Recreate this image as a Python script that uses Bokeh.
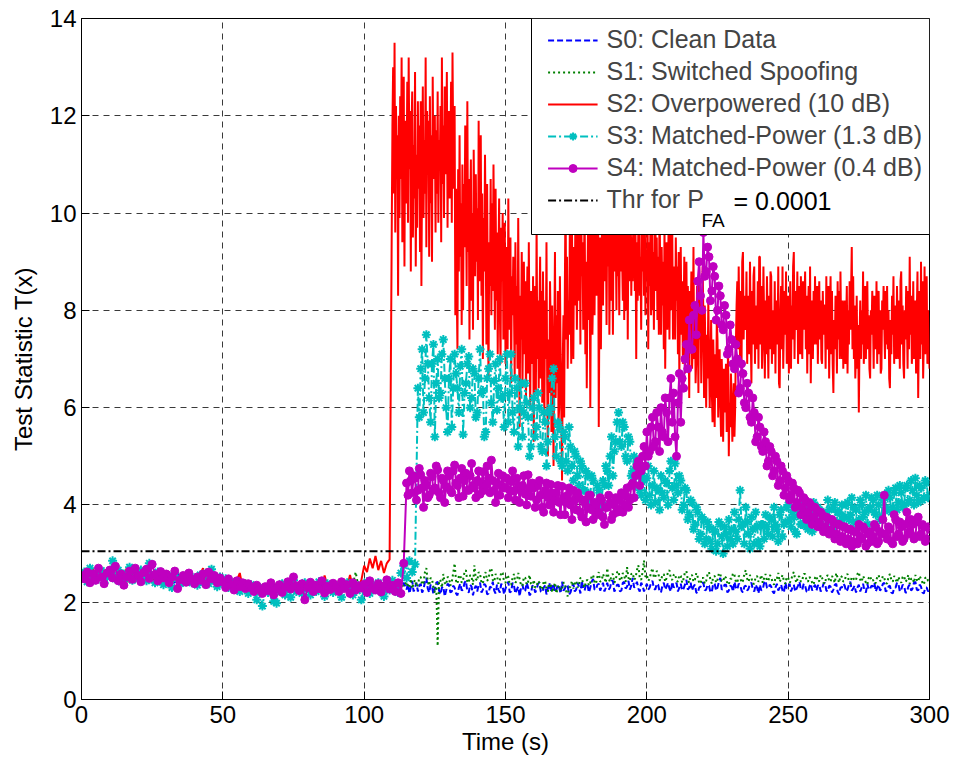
from bokeh.plotting import figure
from bokeh.models import Range1d, Legend, LegendItem, Label, FixedTicker, BoxAnnotation
from bokeh.embed import file_html
from bokeh.resources import INLINE

# ---------------- data ----------------
# Each series: "pre" part sampled every 1 s from t = 0,
# "post" part (after the attack starts) sampled more densely.

# S0: t = 0..114 (1 s), then t = 115.0 .. 300.0 (0.5 s)
s0_post_start, s0_post_step = 115, 0.5
s0_pre = [
    2.48, 2.60, 2.52, 2.40, 2.66, 2.55, 2.44, 2.62, 2.50, 2.58,
    2.45, 2.62, 2.80, 2.52, 2.40, 2.57, 2.48, 2.64, 2.42, 2.55,
    2.50, 2.60, 2.44, 2.56, 2.48, 2.62, 2.38, 2.52, 2.46, 2.58,
    2.42, 2.55, 2.48, 2.36, 2.60, 2.44, 2.52, 2.40, 2.56, 2.46,
    2.38, 2.50, 2.44, 2.58, 2.36, 2.52, 2.42, 2.48, 2.34, 2.55,
    2.40, 2.46, 2.32, 2.44, 2.30, 2.38, 2.26, 2.42, 2.34, 2.28,
    2.35, 2.24, 2.30, 2.38, 2.20, 2.32, 2.26, 2.34, 2.16, 2.30,
    2.38, 2.22, 2.30, 2.42, 2.25, 2.34, 2.20, 2.40, 2.28, 2.32,
    2.26, 2.36, 2.22, 2.40, 2.30, 2.24, 2.46, 2.28, 2.34, 2.20,
    2.36, 2.28, 2.42, 2.24, 2.32, 2.38, 2.22, 2.34, 2.28, 2.40,
    2.30, 2.24, 2.36, 2.28, 2.42, 2.20, 2.34, 2.26, 2.38, 2.30,
    2.24, 2.36, 2.22, 2.32, 2.40,
]
s0_post = [
    2.26, 2.38, 2.18, 2.30, 2.44, 2.22, 2.30, 2.40, 2.22, 2.34,
    2.38, 2.20, 2.26, 2.42, 2.50, 2.28, 2.20, 2.36, 2.34, 2.16, 2.28, 2.40, 2.42, 2.24, 2.16, 2.30, 2.32, 2.12, 2.24, 2.38,
    2.36, 2.20, 2.22, 2.34, 2.30, 2.18, 2.14, 2.30, 2.38, 2.24, 2.26, 2.40, 2.44, 2.22, 2.20, 2.36, 2.32, 2.14, 2.28, 2.34,
    2.22, 2.36, 2.40, 2.20, 2.26, 2.38, 2.34, 2.16, 2.18, 2.32, 2.30, 2.42, 2.24, 2.18, 2.36, 2.26, 2.20, 2.38, 2.32, 2.16,
    2.28, 2.36, 2.42, 2.20, 2.22, 2.40, 2.34, 2.18, 2.26, 2.32, 2.12, 2.30, 2.36, 2.22, 2.24, 2.40, 2.30, 2.14, 2.18, 2.34,
    2.32, 2.20, 2.26, 2.38, 2.40, 2.22, 2.20, 2.30, 2.34, 2.16, 2.28, 2.40, 2.22, 2.32, 2.38, 2.20, 2.25, 2.36, 2.30, 2.18,
    2.42, 2.24, 2.28, 2.36, 2.34, 2.16, 2.20, 2.32, 2.38, 2.22, 2.26, 2.40, 2.32, 2.18, 2.44, 2.28, 2.24, 2.38, 2.36, 2.20,
    2.30, 2.42, 2.48, 2.26, 2.26, 2.36, 2.38, 2.24, 2.32, 2.40, 2.22, 2.30, 2.40, 2.26, 2.30, 2.44, 2.44, 2.22, 2.28, 2.36,
    2.36, 2.22, 2.24, 2.40, 2.42, 2.28, 2.32, 2.44, 2.26, 2.34, 2.50, 2.30, 2.34, 2.42, 2.28, 2.22, 2.40, 2.34, 2.22, 2.30,
    2.38, 2.26, 2.30, 2.40, 2.44, 2.28, 2.26, 2.38, 2.36, 2.22, 2.20, 2.34, 2.40, 2.26, 2.32, 2.40, 2.28, 2.22, 2.42, 2.30,
    2.34, 2.40, 2.22, 2.30, 2.38, 2.24, 2.28, 2.36, 2.46, 2.26, 2.30, 2.40, 2.24, 2.32, 2.36, 2.20, 2.18, 2.30, 2.32, 2.40,
    2.40, 2.24, 2.26, 2.36, 2.34, 2.20, 2.22, 2.38, 2.38, 2.24, 2.30, 2.42, 2.50, 2.26, 2.28, 2.36, 2.36, 2.20, 2.24, 2.34,
    2.32, 2.22, 2.42, 2.30, 2.26, 2.38, 2.36, 2.24, 2.20, 2.32, 2.34, 2.24, 2.28, 2.38, 2.40, 2.26, 2.22, 2.36, 2.30, 2.18,
    2.36, 2.24, 2.26, 2.40, 2.44, 2.30, 2.28, 2.36, 2.32, 2.22, 2.18, 2.30, 2.38, 2.24, 2.30, 2.36, 2.24, 2.20, 2.40, 2.28,
    2.30, 2.38, 2.22, 2.30, 2.36, 2.22, 2.28, 2.34, 2.42, 2.26, 2.26, 2.38, 2.34, 2.22, 2.20, 2.32, 2.38, 2.24, 2.30, 2.36,
    2.24, 2.34, 2.36, 2.22, 2.28, 2.38, 2.40, 2.24, 2.22, 2.34, 2.32, 2.20, 2.26, 2.36, 2.38, 2.22, 2.16, 2.30, 2.30, 2.38,
    2.34, 2.22, 2.26, 2.36, 2.42, 2.24, 2.28, 2.34, 2.20, 2.30, 2.36, 2.22, 2.30, 2.38, 2.24, 2.20, 2.38, 2.26, 2.28, 2.34,
    2.32, 2.40, 2.22, 2.30, 2.36, 2.24, 2.28, 2.38, 2.40, 2.22, 2.24, 2.32, 2.34, 2.20, 2.18, 2.30, 2.30, 2.40, 2.38, 2.22,
    2.26, 2.36, 2.34, 2.20, 2.20, 2.32, 2.36, 2.24, 2.28, 2.40, 2.42, 2.26, 2.24, 2.36, 2.32, 2.20, 2.18, 2.30, 2.30, 2.22,
    2.26,
]

# S1: t = 0..114 (1 s), then t = 115.0 .. 300.0 (0.5 s)
s1_post_start, s1_post_step = 115, 0.5
s1_pre = [
    2.55, 2.46, 2.62, 2.50, 2.58, 2.44, 2.66, 2.52, 2.48, 2.60,
    2.52, 2.70, 2.46, 2.58, 2.50, 2.64, 2.42, 2.56, 2.62, 2.48,
    2.58, 2.45, 2.66, 2.52, 2.48, 2.60, 2.54, 2.42, 2.58, 2.46,
    2.52, 2.44, 2.60, 2.48, 2.40, 2.55, 2.46, 2.58, 2.38, 2.50,
    2.46, 2.56, 2.40, 2.52, 2.44, 2.60, 2.38, 2.50, 2.42, 2.56,
    2.44, 2.36, 2.48, 2.32, 2.42, 2.30, 2.40, 2.34, 2.46, 2.28,
    2.32, 2.40, 2.24, 2.34, 2.28, 2.22, 2.36, 2.26, 2.30, 2.38,
    2.28, 2.36, 2.22, 2.40, 2.30, 2.26, 2.34, 2.20, 2.38, 2.32,
    2.26, 2.38, 2.30, 2.42, 2.24, 2.36, 2.28, 2.40, 2.32, 2.22,
    2.38, 2.30, 2.26, 2.40, 2.34, 2.28, 2.36, 2.62, 2.30, 2.36,
    2.28, 2.38, 2.32, 2.26, 2.40, 2.30, 2.36, 2.24, 2.34, 2.28,
    2.36, 2.30, 2.26, 2.38, 2.32,
]
s1_post = [
    2.42, 2.30, 2.34, 2.48, 2.28, 2.40, 2.46, 2.32, 2.36, 2.50,
    2.52, 2.36, 2.40, 2.62, 2.70, 2.42, 2.34, 2.50, 2.48, 2.30, 2.20, 2.38, 1.10, 2.46, 2.44, 2.30, 2.58, 2.40, 2.36, 2.52,
    2.50, 2.34, 2.42, 2.60, 2.80, 2.44, 2.38, 2.54, 2.56, 2.40, 2.46, 2.62, 2.66, 2.42, 2.40, 2.56, 2.52, 2.36, 2.76, 2.48,
    2.44, 2.62, 2.58, 2.40, 2.38, 2.54, 2.62, 2.44, 2.48, 2.66, 2.70, 2.46, 2.42, 2.58, 2.54, 2.38, 2.46, 2.62, 2.60, 2.42,
    2.40, 2.56, 2.52, 2.36, 2.36, 2.50, 2.58, 2.40, 2.44, 2.60, 2.48, 2.34, 2.34, 2.52, 2.50, 2.36, 2.42, 2.56, 2.38, 2.30,
    2.46, 2.30, 2.32, 2.44, 2.40, 2.26, 2.28, 2.42, 2.44, 2.26, 2.22, 2.38, 2.36, 2.20, 2.30, 2.40, 2.18, 2.30, 2.34, 2.24,
    2.26, 2.40, 2.40, 2.22, 2.12, 2.30, 2.32, 2.44, 2.28, 2.38, 2.44, 2.30, 2.36, 2.50, 2.50, 2.36, 2.30, 2.44, 2.46, 2.34,
    2.40, 2.54, 2.56, 2.40, 2.38, 2.52, 2.62, 2.42, 2.44, 2.58, 2.50, 2.40, 2.70, 2.48, 2.42, 2.56, 2.58, 2.40, 2.46, 2.62,
    2.64, 2.44, 2.48, 2.60, 2.54, 2.42, 2.72, 2.50, 2.44, 2.58, 2.60, 2.46, 2.50, 2.66, 2.76, 2.50, 2.46, 2.62, 2.86, 2.52,
    2.56, 2.44, 2.48, 2.62, 2.70, 2.50, 2.52, 2.64, 2.62, 2.46, 2.44, 2.56, 2.58, 2.42, 2.50, 2.62, 2.66, 2.48, 2.46, 2.56,
    2.58, 2.44, 2.42, 2.56, 2.54, 2.40, 2.48, 2.62, 2.64, 2.46, 2.40, 2.54, 2.56, 2.42, 2.46, 2.60, 2.52, 2.40, 2.38, 2.50,
    2.50, 2.38, 2.44, 2.58, 2.62, 2.46, 2.38, 2.52, 2.54, 2.40, 2.46, 2.60, 2.58, 2.44, 2.42, 2.54, 2.50, 2.38, 2.36, 2.48,
    2.48, 2.60, 2.56, 2.42, 2.40, 2.54, 2.52, 2.40, 2.44, 2.58, 2.66, 2.48, 2.42, 2.56, 2.50, 2.38, 2.38, 2.52, 2.54, 2.42,
    2.46, 2.56, 2.40, 2.50, 2.58, 2.44, 2.44, 2.56, 2.52, 2.40, 2.36, 2.50, 2.48, 2.60, 2.42, 2.48, 2.56, 2.44, 2.38, 2.52,
    2.50, 2.40, 2.44, 2.56, 2.62, 2.46, 2.40, 2.54, 2.52, 2.42, 2.46, 2.58, 2.58, 2.44, 2.42, 2.52, 2.48, 2.40, 2.36, 2.50,
    2.54, 2.42, 2.44, 2.56, 2.50, 2.40, 2.38, 2.52, 2.56, 2.44, 2.42, 2.54, 2.48, 2.40, 2.60, 2.50, 2.40, 2.54, 2.52, 2.42,
    2.44, 2.56, 2.58, 2.42, 2.38, 2.52, 2.50, 2.44, 2.46, 2.58, 2.62, 2.46, 2.42, 2.54, 2.48, 2.40, 2.36, 2.50, 2.54, 2.44,
    2.46, 2.38, 2.40, 2.52, 2.56, 2.44, 2.44, 2.54, 2.50, 2.40, 2.38, 2.52, 2.58, 2.46, 2.42, 2.54, 2.48, 2.40, 2.52, 2.44,
    2.40, 2.52, 2.54, 2.42, 2.46, 2.56, 2.38, 2.48, 2.50, 2.40, 2.56, 2.46, 2.42, 2.54, 2.48, 2.40, 2.36, 2.50, 2.52, 2.44,
    2.44,
]

# S2: t = 0..109 (1 s), then t = 110.00 .. 300.00 (0.25 s)
s2_post_start, s2_post_step = 110, 0.25
s2_pre = [
    2.52, 2.65, 2.45, 2.58, 2.70, 2.48, 2.55, 2.62, 2.42, 2.57,
    2.50, 2.68, 2.55, 2.45, 2.62, 2.52, 2.70, 2.40, 2.58, 2.50,
    2.62, 2.48, 2.55, 2.42, 2.66, 2.52, 2.45, 2.58, 2.40, 2.55,
    2.47, 2.60, 2.38, 2.52, 2.44, 2.56, 2.40, 2.62, 2.48, 2.35,
    2.52, 2.44, 2.58, 2.70, 2.40, 2.55, 2.46, 2.62, 2.38, 2.50,
    2.45, 2.36, 2.50, 2.40, 2.32, 2.46, 2.60, 2.30, 2.42, 2.35,
    2.28, 2.40, 2.32, 2.22, 2.36, 2.25, 2.30, 2.20, 2.38, 2.26,
    2.32, 2.44, 2.25, 2.36, 2.28, 2.58, 2.30, 2.40, 2.22, 2.35,
    2.42, 2.26, 2.38, 2.30, 2.45, 2.28, 2.55, 2.33, 2.24, 2.40,
    2.30, 2.44, 2.26, 2.38, 2.32, 2.56, 2.28, 2.40, 2.34, 2.45,
    2.75, 2.62, 2.90, 2.70, 2.95, 2.66, 2.85, 2.60, 2.80, 2.88,
]
s2_post = [
    11.8, 13.0, 10.4, 13.5, 9.6, 12.2, 10.8, 11.6, 8.3, 12.0, 9.9, 12.4, 10.7, 13.2, 9.4, 11.3, 12.8, 8.9, 11.9, 10.2,
    10.6, 12.7, 9.8, 13.2, 10.9, 12.1, 8.8, 11.7, 12.5, 9.5, 11.4, 10.3, 12.9, 8.9, 11.2, 9.7, 12.3, 10.5, 11.8, 9.2,
    12.3, 8.5, 11.0, 12.6, 9.9, 11.5, 10.4, 13.2, 9.3, 12.1, 10.8, 11.9, 9.1, 12.4, 10.2, 11.6, 9.0, 12.8, 10.7, 11.3,
    12.0, 9.6, 11.7, 10.4, 12.5, 9.8, 11.5, 10.9, 12.2, 9.4, 13.2, 10.6, 11.8, 9.9, 12.6, 10.8, 11.1, 12.9, 9.7, 12.0,
    12.1, 10.3, 11.0, 12.7, 9.8, 13.3, 11.4, 10.5, 12.2, 7.9, 10.5, 8.4, 7.2, 10.9, 8.8, 11.6, 9.1, 10.2, 7.7, 11.0,
    8.0, 10.6, 9.3, 11.8, 10.4, 8.5, 12.3, 9.2, 10.7, 7.4, 9.8, 11.1, 8.2, 10.0, 7.6, 11.3, 9.5, 8.7, 10.8, 9.0,
    10.1, 7.8, 11.9, 8.6, 9.7, 11.6, 8.3, 10.4, 7.0, 9.9, 8.8, 11.2, 9.5, 7.3, 10.6, 8.1, 6.6, 9.4, 8.5, 10.7,
    7.9, 10.2, 8.4, 11.0, 9.1, 7.6, 10.5, 8.2, 9.6, 7.1, 9.0, 10.3, 8.0, 6.9, 9.7, 8.6, 10.0, 7.4, 8.9, 9.8,
    6.9, 9.3, 8.8, 7.2, 10.3, 8.1, 7.6, 9.5, 6.5, 8.7, 7.9, 9.1, 8.1, 6.6, 9.4, 7.3, 8.5, 6.8, 9.9, 7.7,
    5.6, 8.3, 7.4, 9.2, 6.4, 8.0, 9.0, 7.1, 8.6, 6.2, 7.8, 8.9, 6.7, 9.4, 7.5, 6.0, 8.4, 7.2, 6.9, 8.7,
    5.3, 7.6, 8.5, 6.3, 9.8, 7.0, 8.2, 6.4, 7.9, 9.1, 6.6, 8.4, 6.1, 8.8, 7.3, 5.8, 8.2, 7.0, 9.4, 6.5,
    5.0, 7.4, 6.3, 8.6, 7.6, 5.5, 8.1, 6.8, 4.8, 7.3, 9.2, 6.2, 7.9, 6.5, 8.4, 5.7, 6.0, 8.7, 7.1, 5.9,
    4.5, 6.9, 7.9, 5.8, 8.5, 10.5, 7.4, 9.1, 6.8, 8.2, 7.5, 9.6, 8.8, 6.9, 9.9, 7.8, 7.0, 9.3, 8.1, 10.2,
    9.5, 7.6, 8.9, 10.6, 8.2, 9.9, 7.3, 10.5, 8.7, 9.4, 7.6, 8.8, 10.3, 7.1, 9.0, 6.4, 8.5, 10.1, 7.8, 9.6,
    6.0, 8.9, 9.8, 7.5, 8.5, 10.4, 7.9, 9.7, 10.8, 8.3, 9.2, 11.0, 5.6, 8.4, 9.5, 7.2, 9.0, 10.7, 8.1, 9.9,
    11.0, 8.6, 9.8, 7.7, 10.2, 8.9, 10.9, 7.5, 9.3, 10.5, 8.2, 9.7, 7.5, 10.1, 8.8, 11.1, 9.6, 8.0, 10.4, 8.7,
    9.6, 7.9, 10.3, 8.8, 10.6, 9.1, 8.2, 10.9, 7.8, 9.7, 9.3, 8.0, 10.5, 7.4, 9.9, 8.6, 9.3, 10.8, 8.3, 9.5,
    8.6, 10.2, 11.2, 8.4, 9.6, 7.0, 9.4, 8.2, 9.8, 10.6, 8.3, 9.1, 7.6, 10.0, 8.8, 9.7, 8.3, 10.4, 7.9, 9.2,
    8.8, 10.1, 7.2, 9.4, 8.5, 9.6, 7.9, 10.3, 8.0, 9.2, 7.6, 10.0, 10.2, 8.4, 9.5, 7.8, 9.1, 7.5, 10.4, 8.6,
    7.5, 9.3, 8.1, 9.0, 7.2, 9.8, 6.8, 8.7, 9.4, 7.6, 8.6, 10.1, 7.4, 9.2, 9.8, 8.0, 9.6, 7.4, 8.9, 8.3,
    7.4, 9.5, 8.2, 8.9, 7.1, 9.2, 6.6, 8.4, 9.3, 7.5, 8.6, 6.9, 7.8, 9.1, 6.7, 8.3, 9.0, 7.2, 8.5, 7.7,
    6.2, 8.4, 7.6, 8.8, 6.8, 7.3, 9.3, 7.0, 8.1, 6.5, 7.0, 8.5, 7.7, 6.3, 9.0, 7.4, 8.2, 6.5, 7.6, 8.9,
    7.9, 6.2, 8.1, 6.9, 6.0, 7.5, 6.6, 8.2, 7.1, 6.0, 6.8, 7.8, 6.3, 5.7, 7.4, 6.5, 5.6, 7.1, 6.2, 7.8,
    7.4, 5.8, 6.6, 7.2, 6.1, 5.4, 7.0, 6.3, 5.3, 6.8, 5.9, 6.5, 6.9, 5.5, 6.2, 7.3, 5.0, 6.1, 5.6, 6.7,
    6.2, 5.3, 5.9, 6.5, 5.4, 6.0, 7.3, 8.1, 8.6, 7.2, 8.9, 7.6, 7.0, 8.4, 6.8, 9.0, 9.2, 7.4, 8.3, 7.8,
    7.6, 8.8, 6.9, 8.2, 8.3, 7.1, 9.0, 7.5, 6.5, 8.4, 7.3, 8.7, 8.9, 6.9, 8.1, 7.6, 7.2, 8.6, 6.8, 9.1,
    9.1, 7.3, 8.5, 6.8, 7.4, 8.9, 7.8, 6.6, 8.2, 7.1, 8.7, 7.6, 6.6, 8.3, 7.2, 8.8, 8.7, 6.9, 8.0, 7.5,
    7.1, 8.6, 6.7, 8.2, 8.0, 7.3, 8.9, 6.5, 6.4, 7.9, 8.5, 7.2, 8.9, 6.8, 7.7, 8.4, 7.5, 8.8, 6.9, 8.1,
    8.3, 6.7, 7.8, 8.6, 6.8, 8.1, 7.4, 8.9, 9.2, 7.0, 8.4, 7.6, 7.7, 8.8, 6.9, 8.2, 8.5, 7.1, 8.7, 7.4,
    7.0, 8.6, 7.6, 8.1, 8.8, 7.2, 8.3, 6.7, 7.9, 8.5, 7.1, 8.9, 6.5, 7.8, 8.2, 7.0, 8.4, 7.3, 8.7, 7.6,
    7.3, 8.5, 6.9, 8.0, 8.6, 7.4, 8.2, 7.0, 6.9, 8.4, 7.5, 8.1, 8.1, 6.8, 8.7, 7.3, 7.2, 8.5, 6.6, 7.9,
    8.7, 7.1, 8.4, 6.9, 6.3, 7.8, 7.2, 8.3, 7.8, 6.7, 8.6, 7.4, 8.4, 7.0, 8.8, 7.5, 7.0, 8.2, 6.8, 7.9,
    8.2, 6.9, 7.7, 8.5, 6.7, 8.0, 7.3, 8.6, 7.6, 8.4, 9.3, 7.2, 8.7, 7.0, 8.1, 6.6, 7.1, 8.3, 6.8, 7.7,
    5.9, 7.4, 8.2, 7.0, 8.0, 7.3, 8.8, 6.9, 7.4, 8.5, 7.0, 8.1, 8.6, 7.2, 7.9, 6.8, 6.6, 8.0, 7.5, 8.4,
    7.9, 6.8, 8.3, 7.4, 7.2, 8.6, 6.9, 8.1, 8.4, 7.1, 8.0, 6.7, 6.8, 8.2, 7.6, 8.5, 7.7, 7.0, 8.4, 7.3,
    8.5, 7.2, 8.0, 6.6, 6.4, 7.8, 7.1, 8.3, 7.5, 8.7, 6.9, 7.9, 8.1, 7.0, 8.5, 7.4, 7.0, 8.2, 6.8, 8.6,
    8.8, 7.3, 8.1, 6.9, 6.6, 8.0, 7.4, 8.5, 7.8, 6.8, 8.4, 7.2, 9.1, 7.5, 8.3, 6.9, 7.3, 8.6, 7.0, 8.1,
    8.2, 6.7, 7.9, 8.8, 6.2, 7.6, 8.4, 7.0, 9.0, 7.3, 8.6, 6.6, 7.4, 8.9, 7.1, 8.2, 8.7, 6.9, 8.0, 7.5,
    6.8,
]

# S3: t = 0..118 (1 s), then t = 119.0 .. 300.0 (0.5 s)
s3_post_start, s3_post_step = 119, 0.5
s3_pre = [
    2.50, 2.62, 2.42, 2.70, 2.55, 2.46, 2.58, 2.65, 2.40, 2.52,
    2.60, 2.85, 2.48, 2.66, 2.42, 2.58, 2.50, 2.72, 2.45, 2.60,
    2.48, 2.66, 2.52, 2.44, 2.80, 2.55, 2.40, 2.62, 2.50, 2.36,
    2.55, 2.45, 2.30, 2.60, 2.48, 2.38, 2.52, 2.44, 2.58, 2.40,
    2.50, 2.35, 2.56, 2.42, 2.60, 2.38, 2.68, 2.45, 2.32, 2.52,
    2.38, 2.48, 2.30, 2.42, 2.28, 2.40, 2.22, 2.35, 2.30, 2.18,
    2.36, 2.25, 2.05, 2.30, 1.92, 2.28, 2.20, 2.35, 2.02, 1.98,
    2.25, 2.38, 2.15, 2.30, 2.10, 2.45, 2.22, 2.33, 2.18, 2.40,
    2.28, 2.15, 2.36, 2.22, 2.42, 2.26, 2.12, 2.38, 2.30, 2.20,
    2.35, 2.25, 2.10, 2.32, 2.40, 2.24, 2.15, 2.36, 2.28, 2.05,
    2.30, 2.42, 2.18, 2.35, 2.26, 2.40, 2.22, 2.12, 2.36, 2.25,
    2.45, 2.30, 2.20, 2.60, 2.75, 2.50, 2.85, 2.62, 2.78,
]
s3_post = [
    6.40, 5.80,
    6.80, 7.20, 5.90, 6.60, 7.50, 6.90, 6.20, 5.70, 6.90, 7.30, 5.40, 6.50, 7.00, 6.20, 6.30, 7.10, 7.40, 6.60, 6.00, 5.50,
    6.60, 7.00, 5.60, 6.40, 7.10, 6.70, 6.40, 5.90, 6.85, 7.20, 5.45, 6.30, 6.50, 6.90, 7.05, 6.00, 6.20, 6.80, 6.70, 5.80,
    5.90, 6.60, 7.20, 6.30, 6.35, 5.40, 5.50, 6.60, 6.80, 7.10, 6.10, 5.70, 6.55, 6.90, 5.95, 6.40, 7.00, 6.20, 6.25, 5.60,
    6.60, 7.10, 5.70, 6.30, 7.10, 5.90, 5.50, 6.60, 6.40, 5.20, 6.00, 6.50, 5.40, 5.90, 6.50, 6.10, 5.80, 5.00, 5.20, 6.00,
    6.20, 5.40, 5.60, 6.30, 6.00, 5.20, 5.10, 5.90, 5.70, 4.80, 5.30, 5.90, 6.00, 6.60, 6.80, 5.40, 5.00, 5.70, 5.60, 4.90,
    4.80, 5.50, 5.40, 4.90, 4.70, 5.60, 5.20, 4.80, 4.50, 5.10, 5.00, 4.60, 4.40, 4.90, 4.80, 4.30, 4.30, 4.70, 4.60, 4.10,
    4.20, 4.60, 4.50, 4.00, 3.95, 4.40, 4.30, 3.90, 4.05, 4.50, 4.40, 4.80, 4.70, 4.40, 5.00, 5.40, 4.60, 5.10, 5.30, 5.70,
    5.90, 5.30, 5.20, 5.70, 5.60, 5.00, 4.90, 5.40, 5.30, 4.60, 4.70, 5.00, 4.40, 4.90, 4.80, 4.30, 4.20, 4.60, 4.50, 4.10,
    4.55, 4.80, 4.20, 4.00, 4.40, 4.70, 4.05, 4.35, 4.30, 3.90, 4.60, 4.25, 4.15, 4.50, 4.45, 4.00, 4.70, 4.90, 4.35, 4.10,
    4.85, 4.40, 4.25, 4.60, 4.50, 3.90, 4.00, 4.35, 4.30, 3.70, 3.80, 4.10, 4.05, 3.50, 3.60, 3.95, 3.85, 3.30, 3.40, 3.75,
    3.70, 3.20, 3.30, 3.65, 3.55, 3.25, 3.10, 3.50, 3.45, 3.05, 3.20, 3.65, 3.60, 3.35, 3.00, 3.55, 3.40, 3.15, 3.70, 3.30,
    3.50, 3.20, 3.85, 3.45, 3.30, 3.70, 4.30, 3.55, 3.60, 3.20, 3.95, 3.65, 3.40, 3.10, 3.75, 3.50, 3.20, 3.85, 3.55, 3.25,
    3.15, 3.60, 3.60, 3.30, 3.80, 3.55, 3.40, 3.75, 3.70, 3.35, 3.95, 3.60, 3.50, 3.25, 3.80, 3.90, 3.35, 3.60, 3.65, 3.95,
    4.00, 3.70, 3.55, 3.85, 3.75, 3.45, 3.40, 3.80, 3.90, 3.60, 3.60, 4.00, 3.85, 3.55, 3.50, 3.95, 3.70, 3.45, 4.05, 3.80,
    3.65, 3.95, 3.90, 3.60, 3.55, 3.85, 3.80, 3.55, 4.10, 3.90, 3.70, 3.50, 3.95, 4.05, 3.60, 3.85, 3.85, 3.65, 4.00, 3.75,
    3.75, 4.00, 4.05, 3.70, 3.80, 4.15, 3.65, 3.95, 3.90, 3.60, 3.70, 4.10, 4.00, 3.75, 3.85, 4.20, 3.60, 3.90, 3.95, 4.15,
    4.10, 3.85, 3.80, 4.20, 4.00, 3.70, 3.75, 4.10, 4.20, 3.95, 3.90, 4.30, 4.15, 3.85, 3.95, 4.25, 4.35, 3.90, 4.05, 4.40,
    4.25, 3.95, 4.00, 4.35, 4.40, 4.05, 4.10, 4.50, 4.30, 4.00, 4.55, 4.20, 4.05, 4.40, 4.35, 4.10, 4.15, 4.50, 4.45, 4.15,
    4.20,
]

# S4: t = 0..114 (1 s), then t = 115.0 .. 300.0 (0.5 s)
s4_post_start, s4_post_step = 115, 0.5
s4_pre = [
    2.55, 2.48, 2.62, 2.40, 2.58, 2.45, 2.70, 2.52, 2.38, 2.60,
    2.66, 2.50, 2.74, 2.44, 2.58, 2.35, 2.52, 2.64, 2.47, 2.70,
    2.55, 2.42, 2.61, 2.68, 2.49, 2.78, 2.57, 2.44, 2.63, 2.50,
    2.58, 2.40, 2.52, 2.64, 2.28, 2.46, 2.55, 2.41, 2.60, 2.47,
    2.38, 2.52, 2.45, 2.58, 2.36, 2.62, 2.48, 2.55, 2.40, 2.50,
    2.42, 2.30, 2.48, 2.36, 2.25, 2.44, 2.32, 2.40, 2.28, 2.38,
    2.30, 2.22, 2.35, 2.26, 2.18, 2.32, 2.24, 2.40, 2.15, 2.28,
    2.36, 2.20, 2.31, 2.42, 2.27, 2.52, 2.34, 2.24, 2.38, 2.05,
    2.30, 2.41, 2.22, 2.35, 2.28, 2.44, 2.19, 2.33, 2.26, 2.39,
    2.31, 2.22, 2.42, 2.28, 2.36, 2.18, 2.40, 2.25, 2.34, 2.29,
    2.37, 2.20, 2.44, 2.30, 2.25, 2.38, 2.21, 2.33, 2.46, 2.27,
    2.35, 2.22, 2.40, 2.18, 2.80,
]
s4_post = [
    4.45, 4.20, 4.70, 4.50, 4.25, 4.60, 4.55, 4.10, 4.30, 4.75,
    4.62, 4.35, 3.95, 4.50, 4.40, 4.15, 4.20, 4.65, 4.58, 4.30, 4.35, 4.80, 4.72, 4.25, 4.15, 4.55, 4.50, 4.05, 4.38, 4.70,
    4.60, 4.30, 4.25, 4.70, 4.82, 4.45, 4.40, 4.15, 4.55, 4.75, 4.18, 4.50, 4.65, 4.30, 4.30, 4.60, 4.85, 4.40, 4.35, 4.15,
    4.50, 4.70, 4.22, 4.45, 4.68, 4.30, 4.40, 4.80, 4.55, 4.25, 4.92, 4.50, 4.30, 4.05, 4.45, 4.65, 4.20, 4.40, 4.60, 4.35,
    4.35, 4.55, 4.15, 4.30, 4.48, 4.70, 4.28, 4.10, 4.55, 4.40, 4.05, 4.30, 4.40, 4.60, 4.22, 4.00, 4.62, 4.35, 4.18, 4.45,
    4.35, 3.95, 4.10, 4.40, 4.50, 4.20, 3.95, 3.85, 4.30, 4.45, 4.15, 4.00, 4.42, 4.25, 3.85, 4.10, 4.25, 4.40, 4.05, 3.80,
    4.38, 4.15, 3.80, 4.05, 4.20, 4.35, 4.00, 3.70, 4.30, 4.10, 3.90, 4.25, 4.15, 3.85, 3.75, 4.10, 4.05, 3.65, 3.95, 4.20,
    4.20, 3.90, 3.70, 4.05, 4.00, 3.80, 3.85, 4.15, 4.10, 3.75, 3.60, 3.95, 3.95, 4.20, 4.05, 3.70, 3.80, 4.00, 4.15, 3.85,
    3.90, 4.10, 4.25, 3.85, 4.00, 4.20, 4.35, 3.95, 4.10, 4.40, 4.45, 4.15, 4.60, 4.80, 4.90, 4.40, 4.70, 5.00, 5.20, 4.80,
    5.50, 5.00, 5.10, 5.60, 5.80, 5.20, 5.30, 5.90, 5.60, 5.10, 6.00, 5.50, 5.40, 6.20, 5.90, 5.30, 6.20, 6.60, 5.70, 6.30,
    5.40, 5.00, 6.10, 6.70, 5.70, 6.60, 6.40, 7.00, 7.30, 6.80, 7.80, 7.20, 7.20, 7.90, 8.10, 7.50, 8.60, 9.00, 8.30, 8.00,
    9.60, 8.70, 8.80, 9.30, 9.10, 8.20, 8.40, 8.90, 8.70, 7.80, 8.00, 8.50, 8.30, 7.70, 7.60, 8.10, 7.90, 7.10, 7.20, 7.70,
    7.40, 6.90, 6.80, 7.30, 7.00, 6.30, 6.40, 6.90, 6.70, 6.10, 6.00, 6.50, 6.30, 5.80, 5.70, 6.20, 5.90, 5.30, 5.40, 5.80,
    5.60, 5.20, 5.10, 5.50, 5.30, 4.80, 4.90, 5.20, 5.10, 4.60, 4.70, 5.00, 4.90, 4.40, 4.50, 4.80, 4.70, 4.20, 4.35, 4.60,
    4.50, 4.10, 4.20, 4.45, 4.35, 3.95, 4.05, 4.30, 4.25, 3.80, 3.95, 4.15, 4.10, 3.70, 3.85, 4.05, 4.00, 3.60, 3.75, 3.95,
    3.90, 3.55, 3.65, 3.85, 3.80, 3.45, 3.55, 3.75, 3.72, 3.40, 3.48, 3.70, 3.65, 3.30, 3.40, 3.60, 3.60, 3.25, 3.35, 3.55,
    3.55, 3.20, 3.30, 3.50, 3.50, 3.15, 3.25, 3.45, 3.45, 3.20, 3.60, 3.35, 3.30, 3.55, 3.50, 3.15, 3.20, 3.40, 3.45, 3.25,
    3.35, 3.60, 3.55, 3.20, 3.25, 3.45, 3.40, 3.70, 4.20, 3.40, 3.30, 3.55, 3.50, 3.25, 3.20, 3.80, 3.70, 3.35, 3.40, 3.65,
    3.55, 3.25, 3.30, 3.60, 3.85, 3.40, 3.45, 3.70, 3.60, 3.30, 3.35, 3.65, 3.75, 3.35, 3.40, 3.60, 3.55, 3.25, 3.30, 3.55,
    3.50,
]

threshold_value = 3.05
threshold_t = [0, 300]

x_ticks = [0, 50, 100, 150, 200, 250, 300]
y_ticks = [0, 2, 4, 6, 8, 10, 12, 14]

series_labels = [
    "S0: Clean Data",
    "S1: Switched Spoofing",
    "S2: Overpowered (10 dB)",
    "S3: Matched-Power (1.3 dB)",
    "S4: Matched-Power (0.4 dB)",
    "Thr for P",
]


def sample_times(pre_values, start, step, post_values):
    pre_t = list(range(len(pre_values)))
    post_t = [start + step * k for k in range(len(post_values))]
    return pre_t + post_t


s0_t = sample_times(s0_pre, s0_post_start, s0_post_step, s0_post)
s1_t = sample_times(s1_pre, s1_post_start, s1_post_step, s1_post)
s2_t = sample_times(s2_pre, s2_post_start, s2_post_step, s2_post)
s3_t = sample_times(s3_pre, s3_post_start, s3_post_step, s3_post)
s4_t = sample_times(s4_pre, s4_post_start, s4_post_step, s4_post)
s0_y = s0_pre + s0_post
s1_y = s1_pre + s1_post
s2_y = s2_pre + s2_post
s3_y = s3_pre + s3_post
s4_y = s4_pre + s4_post
threshold_y = [threshold_value] * len(threshold_t)

FONT = "Liberation Sans"

# ---------------- figure ----------------
p = figure(
    width=953, height=761,
    x_range=Range1d(0, 300), y_range=Range1d(0, 14),
    output_backend="svg", toolbar_location=None,
    min_border_left=81, min_border_right=24,
    min_border_top=18, min_border_bottom=62,
    background_fill_color="white", border_fill_color="white",
)
p.outline_line_color = "black"
p.outline_line_width = 1

for ax in (p.xaxis[0], p.yaxis[0]):
    ax.major_tick_in = 8
    ax.major_tick_out = 0
    ax.minor_tick_in = 0
    ax.minor_tick_out = 0
    ax.axis_line_color = "black"
    ax.major_tick_line_color = "black"
    ax.major_label_text_font = FONT
    ax.major_label_text_font_size = "24px"
    ax.major_label_text_color = "black"
    ax.axis_label_text_font = FONT
    ax.axis_label_text_font_size = "24px"
    ax.axis_label_text_font_style = "normal"
    ax.axis_label_text_color = "black"

p.xaxis.ticker = FixedTicker(ticks=x_ticks)
p.yaxis.ticker = FixedTicker(ticks=y_ticks)
p.xaxis.axis_label = "Time (s)"
p.yaxis.axis_label = "Test Statistic T(x)"
p.xaxis.major_label_standoff = 6
p.xaxis.axis_label_standoff = 2
p.yaxis.major_label_standoff = 5
p.yaxis.axis_label_standoff = 10

for g in (p.xgrid[0], p.ygrid[0]):
    g.grid_line_color = "#3a3a3a"
    g.grid_line_dash = "6 5"
    g.grid_line_width = 1

# ---------------- series ----------------
r0 = p.line(s0_t, s0_y, line_color="#0000ff", line_width=2, line_dash="6 3")
r1 = p.line(s1_t, s1_y, line_color="#008000", line_width=2, line_dash="2 3")
r2 = p.line(s2_t, s2_y, line_color="#ff0000", line_width=2)
r3l = p.line(s3_t, s3_y, line_color="#00bfbf", line_width=2, line_dash="8 3 2 3")
r3m = p.scatter(s3_t, s3_y, marker="asterisk", size=9,
                line_color="#00bfbf", line_width=2)
r4l = p.line(s4_t, s4_y, line_color="#bf00bf", line_width=2)
r4m = p.scatter(s4_t, s4_y, marker="circle", size=8,
                line_color="#bf00bf", fill_color="#bf00bf")
rthr = p.line(threshold_t, threshold_y, line_color="black", line_width=2, line_dash="8 3 2 3")

# legend frame (box drawn separately so its bottom leaves room for the subscript)
legend_box = BoxAnnotation(
    left=450, right=848, top=681, bottom=465,
    left_units="screen", right_units="screen", top_units="screen", bottom_units="screen",
    fill_color="white", fill_alpha=1.0, line_color="black", line_width=1, line_alpha=1.0,
    level="annotation", editable=False,
)
p.add_layout(legend_box)

legend = Legend(
    items=[
        LegendItem(label=series_labels[0], renderers=[r0]),
        LegendItem(label=series_labels[1], renderers=[r1]),
        LegendItem(label=series_labels[2], renderers=[r2]),
        LegendItem(label=series_labels[3], renderers=[r3l, r3m]),
        LegendItem(label=series_labels[4], renderers=[r4l, r4m]),
        LegendItem(label=series_labels[5], renderers=[rthr]),
    ],
    location="top_right",
    margin=0, padding=7, spacing=3,
    glyph_width=50, glyph_height=20, label_height=20,
    label_standoff=9,
    label_text_font=FONT, label_text_font_size="25px",
    border_line_alpha=0.0,
    background_fill_alpha=0.0,
    level="overlay",
)
p.add_layout(legend)

# subscript "FA" and the rest of the threshold label
p.add_layout(Label(x=620, y=479, x_units="screen", y_units="screen", text="FA",
                   text_font=FONT, text_font_size="19px", text_color="black",
                   text_baseline="middle", level="overlay"))
p.add_layout(Label(x=652, y=499, x_units="screen", y_units="screen", text="= 0.0001",
                   text_font=FONT, text_font_size="25px", text_color="black",
                   text_baseline="middle", level="overlay"))

open("out.html", "w").write(file_html(p, INLINE))
